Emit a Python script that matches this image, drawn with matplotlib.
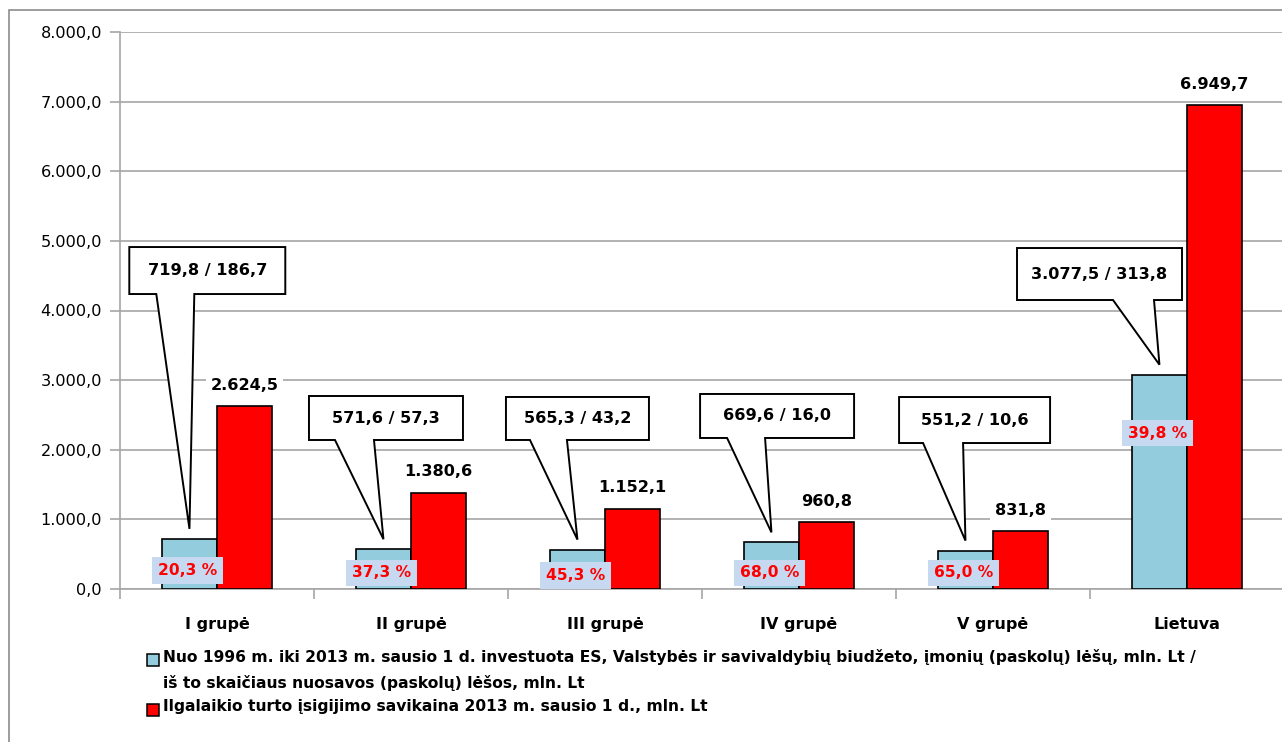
import matplotlib
matplotlib.use("Agg")
import matplotlib.pyplot as plt
from matplotlib.patches import Polygon, Rectangle
from matplotlib.transforms import IdentityTransform
import numpy as np

plt.rcParams['font.family'] = ['DejaVu Sans']

categories = ["I grupė", "II grupė", "III grupė", "IV grupė", "V grupė", "Lietuva"]
invested = [719.8, 571.6, 565.3, 669.6, 551.2, 3077.5]
own_funds = [186.7, 57.3, 43.2, 16.0, 10.6, 313.8]
asset_cost = [2624.5, 1380.6, 1152.1, 960.8, 831.8, 6949.7]
share_pct = [20.3, 37.3, 45.3, 68.0, 65.0, 39.8]
series_names = [
    "Nuo 1996 m. iki 2013 m. sausio 1 d. investuota ES, Valstybės ir savivaldybių biudžeto, įmonių (paskolų) lėšų, mln. Lt /\niš to skaičiaus nuosavos (paskolų) lėšos, mln. Lt",
    "Ilgalaikio turto įsigijimo savikaina 2013 m. sausio 1 d., mln. Lt",
]

# layout of annotations (not data)
callout_dx = [-0.05, -0.129, -0.142, -0.113, -0.095, -0.451]
callout_y = [4574, 2456, 2449, 2485, 2427, 4524]
callout_w = [156, 154, 143, 154, 151, 165]
callout_h = [47, 44, 43, 44, 46, 52]
callout_base = [(-51, -13), (-51, -12), (-47.5, -10.5), (-50, -12), (-51.5, -11.5), (13.5, 54.5)]
pct_y = [270, 230, 190, 230, 230, 2240]

BLUE = "#93CDDD"
RED = "#FF0000"
PCTBG = "#C6D9F1"
GRID = "#A6A6A6"

def fmt(v):
    s = f"{v:,.1f}"
    return s.replace(",", "X").replace(".", ",").replace("X", ".")

W, H = 1282, 742
fig = plt.figure(figsize=(W / 100, H / 100), dpi=100)
fig.patch.set_facecolor("white")

# outer chart frame
fig.add_artist(Rectangle((9 / W, -0.1), 1.2, 1 - 10 / H + 0.1, transform=fig.transFigure,
                         fill=False, edgecolor="#8C8C8C", lw=1.2))

ax = fig.add_axes([120 / W, (H - 589) / H, 1164 / W, 557 / H])
n = len(categories)
x = np.arange(n)
bw = 0.284

ax.bar(x - bw / 2, invested, width=bw, color=BLUE, edgecolor="black", lw=1.2, zorder=3)
ax.bar(x + bw / 2, asset_cost, width=bw, color=RED, edgecolor="black", lw=1.2, zorder=3)

ax.set_xlim(-0.5, n - 0.5)
ax.set_ylim(0, 8000)
ax.set_yticks(np.arange(0, 8001, 1000))
ax.set_yticklabels([fmt(v) for v in np.arange(0, 8001, 1000)], fontsize=11.6)
ax.yaxis.grid(True, color=GRID, lw=1.2, zorder=0)
ax.set_axisbelow(True)
ax.set_xticks(x)
ax.set_xticklabels(categories, fontsize=11.5, fontweight="bold")
ax.set_xticks(np.arange(-0.5, n, 1.0), minor=True)
ax.tick_params(axis="x", which="major", length=0, pad=20)
ax.tick_params(axis="x", which="minor", length=7, color=GRID, width=1.2)
ax.tick_params(axis="y", length=7, color=GRID, width=1.2, pad=6)
for s in ["top", "right"]:
    ax.spines[s].set_visible(False)
for s in ["left", "bottom"]:
    ax.spines[s].set_color(GRID)
    ax.spines[s].set_linewidth(1.2)

# red bar values
for i, v in enumerate(asset_cost):
    ax.annotate(fmt(v), (i + bw / 2, v), xytext=(0, 21), textcoords="offset pixels",
                ha="center", va="center", fontsize=11.6, fontweight="bold", zorder=5,
                bbox=dict(boxstyle="square,pad=0.3", fc="white", ec="none"))

# percentage labels
for i, p in enumerate(share_pct):
    ax.text(i - bw / 2 - 0.01, pct_y[i], f"{p:.1f} %".replace(".", ","), ha="center", va="center",
            color=RED, fontsize=11.2, fontweight="bold", zorder=6,
            bbox=dict(boxstyle="square,pad=0.38", fc=PCTBG, ec="none"))

# callouts
for i in range(n):
    cx, cy = ax.transData.transform((i + callout_dx[i], callout_y[i]))
    tx, ty = ax.transData.transform((i - bw / 2, invested[i]))
    ty += 10
    w, h = callout_w[i], callout_h[i]
    L, R, T, B = cx - w / 2, cx + w / 2, cy + h / 2, cy - h / 2
    bl, br = cx + callout_base[i][0], cx + callout_base[i][1]
    verts = [(L, T), (R, T), (R, B), (br, B), (tx, ty), (bl, B), (L, B)]
    poly = Polygon(verts, closed=True, transform=IdentityTransform(), fc="white",
                   ec="black", lw=1.4, zorder=7, clip_on=False)
    ax.add_artist(poly)
    ax.text(i + callout_dx[i], callout_y[i], f"{fmt(invested[i])} / {fmt(own_funds[i])}",
            ha="center", va="center", fontsize=11.6, fontweight="bold", zorder=8)

# legend (manual)
colors = [BLUE, RED]
leg_y = [(H - 659) / H, (H - 709) / H]
for k, name in enumerate(series_names):
    fig.add_artist(Rectangle((147 / W, leg_y[k] - 6.5 / H), 12 / W, 12 / H, transform=fig.transFigure,
                             fc=colors[k], ec="black", lw=1.1))
    fig.text(163 / W, leg_y[k] + 10 / H, name, ha="left", va="top", fontsize=11.2,
             fontweight="bold", linespacing=1.75)

fig.savefig("out.png", dpi=100)
